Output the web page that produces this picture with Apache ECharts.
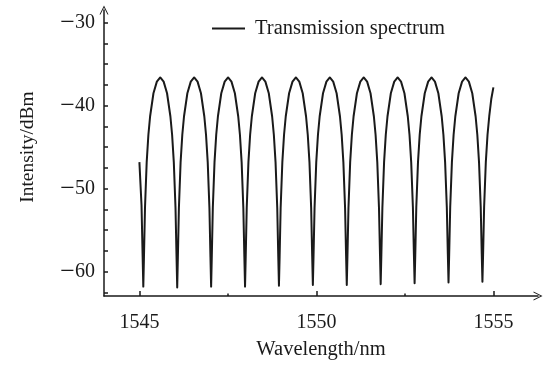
<!DOCTYPE html>
<html lang="en">
<head>
	<meta charset="UTF-8">
	<title>transmission-spectrum</title>
	<script src="https://cdn.jsdelivr.net/npm/echarts@6/dist/echarts.min.js"></script>
	<style>
		html, body { margin: 0; padding: 0; background: #fff; }
	</style>
</head>
<body>
	<div id="chart" style="width: 547px; height: 367px;"></div>
	<script type="text/javascript">

		// wavelength in nm
		const wavelength = [
			1545.000, 1545.060, 1545.091,
			1545.110, 1545.129, 1545.158, 1545.206, 1545.254, 1545.302, 1545.397, 1545.493, 1545.589, 1545.685, 1545.781, 1545.876, 1545.924, 1545.972, 1546.020, 1546.049,
			1546.068, 1546.087, 1546.116, 1546.164, 1546.212, 1546.260, 1546.355, 1546.451, 1546.547, 1546.643, 1546.739, 1546.834, 1546.882, 1546.930, 1546.978, 1547.007,
			1547.026, 1547.045, 1547.074, 1547.122, 1547.170, 1547.218, 1547.313, 1547.409, 1547.505, 1547.601, 1547.697, 1547.792, 1547.840, 1547.888, 1547.936, 1547.965,
			1547.984, 1548.003, 1548.032, 1548.080, 1548.128, 1548.176, 1548.271, 1548.367, 1548.463, 1548.559, 1548.655, 1548.750, 1548.798, 1548.846, 1548.894, 1548.923,
			1548.942, 1548.961, 1548.990, 1549.038, 1549.086, 1549.134, 1549.229, 1549.325, 1549.421, 1549.517, 1549.613, 1549.708, 1549.756, 1549.804, 1549.852, 1549.881,
			1549.900, 1549.919, 1549.948, 1549.996, 1550.044, 1550.092, 1550.187, 1550.283, 1550.379, 1550.475, 1550.571, 1550.666, 1550.714, 1550.762, 1550.810, 1550.839,
			1550.858, 1550.877, 1550.906, 1550.954, 1551.002, 1551.050, 1551.145, 1551.241, 1551.337, 1551.433, 1551.529, 1551.624, 1551.672, 1551.720, 1551.768, 1551.797,
			1551.816, 1551.835, 1551.864, 1551.912, 1551.960, 1552.008, 1552.103, 1552.199, 1552.295, 1552.391, 1552.487, 1552.582, 1552.630, 1552.678, 1552.726, 1552.755,
			1552.774, 1552.793, 1552.822, 1552.870, 1552.918, 1552.966, 1553.061, 1553.157, 1553.253, 1553.349, 1553.445, 1553.540, 1553.588, 1553.636, 1553.684, 1553.713,
			1553.732, 1553.751, 1553.780, 1553.828, 1553.876, 1553.924, 1554.019, 1554.115, 1554.211, 1554.307, 1554.403, 1554.498, 1554.546, 1554.594, 1554.642, 1554.671,
			1554.690, 1554.709, 1554.738, 1554.786, 1554.834, 1554.882, 1554.940, 1555.000
		];

		// intensity in dBm, same order as wavelength
		const intensity = [
			-46.8, -52.0, -58.1,
			-61.8, -58.2, -52.3, -46.8, -43.5, -41.3, -38.5, -37.1, -36.6, -37.1, -38.5, -41.3, -43.5, -46.8, -52.3, -58.2,
			-61.9, -58.2, -52.3, -46.8, -43.5, -41.3, -38.5, -37.1, -36.6, -37.1, -38.5, -41.3, -43.5, -46.8, -52.3, -58.2,
			-61.8, -58.2, -52.3, -46.8, -43.5, -41.3, -38.5, -37.1, -36.6, -37.1, -38.5, -41.3, -43.5, -46.8, -52.3, -58.2,
			-61.8, -58.2, -52.3, -46.8, -43.5, -41.3, -38.5, -37.1, -36.6, -37.1, -38.5, -41.3, -43.5, -46.8, -52.3, -58.2,
			-61.7, -58.2, -52.3, -46.8, -43.5, -41.3, -38.5, -37.1, -36.6, -37.1, -38.5, -41.3, -43.5, -46.8, -52.3, -58.1,
			-61.6, -58.1, -52.3, -46.8, -43.5, -41.3, -38.5, -37.1, -36.6, -37.1, -38.5, -41.3, -43.5, -46.8, -52.3, -58.1,
			-61.6, -58.1, -52.3, -46.8, -43.5, -41.3, -38.5, -37.1, -36.6, -37.1, -38.5, -41.3, -43.5, -46.8, -52.3, -58.0,
			-61.5, -58.0, -52.3, -46.8, -43.5, -41.3, -38.5, -37.1, -36.6, -37.1, -38.5, -41.3, -43.5, -46.8, -52.2, -58.0,
			-61.4, -58.0, -52.2, -46.8, -43.5, -41.3, -38.5, -37.1, -36.6, -37.1, -38.5, -41.3, -43.5, -46.8, -52.2, -57.9,
			-61.3, -57.9, -52.2, -46.8, -43.5, -41.3, -38.5, -37.1, -36.6, -37.1, -38.5, -41.3, -43.5, -46.8, -52.2, -57.9,
			-61.2, -57.9, -52.2, -46.8, -43.5, -41.3, -39.2, -37.8
		];

		const xMajorTicks = [1545, 1550, 1555];
		const xMinorTicks = [1547.5, 1552.5];
		const yTicks = [-62.5, -60, -57.5, -55, -52.5, -50, -47.5, -45, -42.5, -40, -37.5, -35, -32.5, -30];
		const yLabels = [-60, -50, -40, -30];

		const seriesName = 'Transmission spectrum';
		const serif = 'Liberation Serif, Times New Roman, serif';
		const ink = '#1a1a1a';

		// open arrow head, pointing up before echarts rotates it
		const arrowHead = 'path://M5,0 L10,10 L8.9,10 L5,2.2 L1.1,10 L0,10 Z';

		const points = wavelength.map((w, i) => [w, intensity[i]]);

		const chart = echarts.init(document.getElementById('chart'));

		chart.setOption({
			animation: false,
			backgroundColor: '#fff',
			grid: {
				left: 104,
				right: 9,
				top: 10,
				bottom: 71
			},
			legend: {
				data: [{ name: seriesName, icon: 'rect' }],
				left: 207,
				top: 13,
				itemWidth: 33,
				itemHeight: 1.8,
				textStyle: {
					fontFamily: serif,
					fontSize: 20.5,
					color: ink,
					padding: [0, 0, 0, 5]
				}
			},
			xAxis: [{
				type: 'value',
				min: 1544,
				max: 1556.26,
				name: 'Wavelength/nm',
				nameLocation: 'middle',
				nameGap: 43,
				nameTextStyle: {
					fontFamily: serif,
					fontSize: 20.5,
					color: ink
				},
				axisLine: {
					show: true,
					symbol: ['none', arrowHead],
					symbolSize: [9, 10],
					lineStyle: { color: ink, width: 1.5 }
				},
				axisTick: {
					show: true,
					inside: true,
					length: 5,
					customValues: xMajorTicks,
					lineStyle: { color: ink, width: 1.5 }
				},
				axisLabel: {
					customValues: xMajorTicks,
					margin: 17,
					fontFamily: serif,
					fontSize: 20,
					color: ink,
					formatter: (v) => String(v)
				},
				splitLine: { show: false }
			}, {
				type: 'value',
				min: 1544,
				max: 1556.26,
				position: 'bottom',
				axisLine: { show: false },
				axisTick: {
					show: true,
					inside: true,
					length: 2.5,
					customValues: xMinorTicks,
					lineStyle: { color: ink, width: 1.5 }
				},
				axisLabel: { show: false },
				splitLine: { show: false }
			}],
			yAxis: {
				type: 'value',
				min: -62.93,
				max: -28.47,
				name: 'Intensity/dBm',
				nameLocation: 'middle',
				nameGap: 66,
				nameRotate: 90,
				nameTextStyle: {
					fontFamily: serif,
					fontSize: 19.5,
					color: ink,
					padding: [0, 0, 0, 12]
				},
				axisLine: {
					show: true,
					symbol: ['none', arrowHead],
					symbolSize: [9, 10],
					lineStyle: { color: ink, width: 1.5 }
				},
				axisTick: {
					show: true,
					inside: true,
					length: 4,
					customValues: yTicks,
					lineStyle: { color: ink, width: 1.5 }
				},
				axisLabel: {
					customValues: yLabels,
					margin: 9,
					color: ink,
					formatter: (v) => '{m|\u2212}{n|' + Math.abs(v) + '}',
					rich: {
						m: { fontFamily: serif, fontSize: 26, color: ink },
						n: { fontFamily: serif, fontSize: 20, color: ink }
					}
				},
				splitLine: { show: false }
			},
			series: [{
				name: seriesName,
				type: 'line',
				xAxisIndex: 0,
				symbol: 'none',
				smooth: false,
				data: points,
				lineStyle: { color: ink, width: 2, join: 'round' },
				itemStyle: { color: ink }
			}]
		});
	</script>
</body>
</html>
